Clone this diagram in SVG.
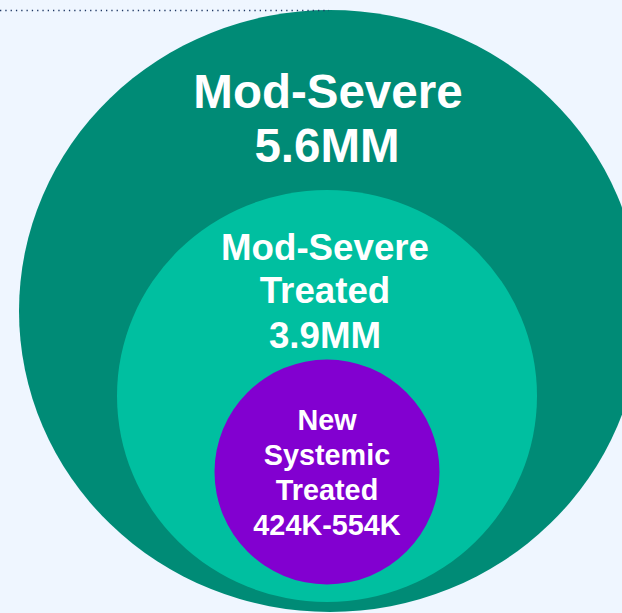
<svg xmlns="http://www.w3.org/2000/svg" width="622" height="613" viewBox="0 0 622 613">
  <style>
    .lbl { font-family: "Liberation Sans", Arial, sans-serif; font-weight: bold; fill: #FFFFFF; text-anchor: middle; }
    .l1 { font-size: 47.5px; }
    .l2 { font-size: 36.7px; }
    .l3 { font-size: 28.8px; }
  </style>
  <rect x="0" y="0" width="622" height="613" fill="#EFF6FF"/>
  <g id="mod-severe">
    <ellipse cx="330" cy="311" rx="311" ry="301" fill="#008B76"/>
    <text class="lbl l1" x="328" y="108">Mod-Severe</text>
    <text class="lbl l1" x="327" y="162">5.6MM</text>
  </g>
  <g id="mod-severe-treated">
    <ellipse cx="327" cy="396" rx="210" ry="206" fill="#00BFA0"/>
    <text class="lbl l2" x="325" y="260">Mod-Severe</text>
    <text class="lbl l2" x="325" y="303">Treated</text>
    <text class="lbl l2" x="325" y="348">3.9MM</text>
  </g>
  <g id="new-systemic-treated">
    <circle cx="327" cy="472" r="112.5" fill="#8200D0"/>
    <text class="lbl l3" x="327" y="430">New</text>
    <text class="lbl l3" x="327" y="465">Systemic</text>
    <text class="lbl l3" x="327" y="500">Treated</text>
    <text class="lbl l3" x="327" y="535">424K-554K</text>
  </g>
  <g id="connectors"/>
  <line x1="0" y1="10.5" x2="329" y2="10.5" stroke="#1F3864" stroke-width="1.3" stroke-dasharray="1.3 4"/>
</svg>
